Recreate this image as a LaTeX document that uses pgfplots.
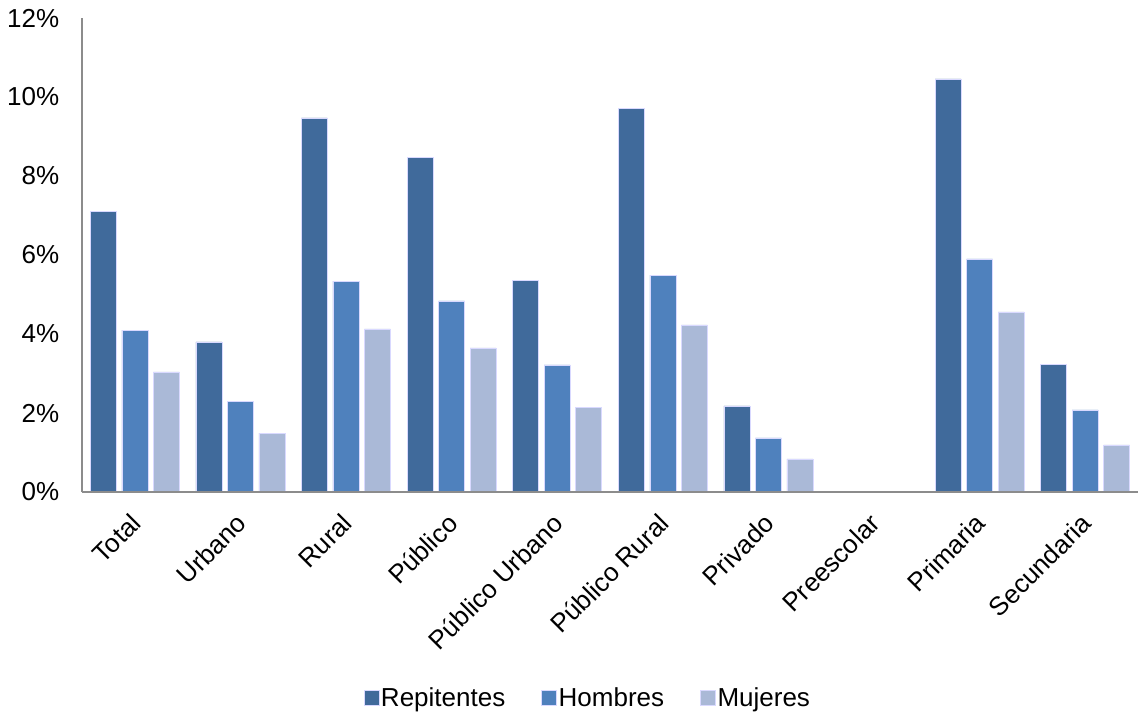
\documentclass[border=0pt]{standalone}
\usepackage{fontspec}
\setmainfont{Liberation Sans}
\usepackage{pgfplots}
\pgfplotsset{compat=1.18}
\definecolor{cRep}{RGB}{64,106,155}
\definecolor{cHom}{RGB}{79,129,189}
\definecolor{cMuj}{RGB}{170,185,215}
\begin{document}
\fontsize{26bp}{31bp}\selectfont
\begin{tikzpicture}
\path[use as bounding box] (-82bp,-225bp) rectangle (1059bp,492bp);
\begin{axis}[
  scale only axis,
  width=1056bp, height=474bp,
  at={(0,0)}, anchor=south west,
  xmin=-0.5, xmax=9.5, ymin=0, ymax=12,
  ytick={0,2,4,6,8,10,12},
  yticklabel={\pgfmathprintnumber{\tick}\%},
  /pgf/number format/assume math mode=true,
  xtick={0,...,9},
  xticklabels={Total,Urbano,Rural,Público,Público Urbano,Público Rural,Privado,Preescolar,Primaria,Secundaria},
  x tick label style={rotate=45, anchor=north east, inner sep=1bp, xshift=-17bp, yshift=-9bp},
  y tick label style={xshift=-14bp},
  tick label style={font=\fontsize{26bp}{31bp}\selectfont},
  major tick length=0pt,
  axis on top,
  axis lines*=left,
  axis line style={-, draw=black!45, line width=1.3bp},
  ybar=5.5bp,
  bar width=26bp,
  every axis plot/.append style={draw=white!85!blue, line width=0.4bp},
  legend style={at={(0.479,-0.436)}, anchor=center, draw=none, legend columns=3,
    font=\fontsize{26bp}{31bp}\selectfont,
    /tikz/every even column/.append style={column sep=34bp}},
  legend image code/.code={\fill[#1] (0bp,-7bp) rectangle (15bp,8bp);},
]
\addplot[fill=cRep] coordinates {(0,7.11) (1,3.80) (2,9.47) (3,8.48) (4,5.35) (5,9.72) (6,2.18) (7,0) (8,10.46) (9,3.24)};
\addplot[fill=cHom] coordinates {(0,4.10) (1,2.30) (2,5.34) (3,4.84) (4,3.22) (5,5.49) (6,1.37) (7,0) (8,5.90) (9,2.08)};
\addplot[fill=cMuj] coordinates {(0,3.04) (1,1.49) (2,4.13) (3,3.65) (4,2.15) (5,4.23) (6,0.84) (7,0) (8,4.56) (9,1.19)};
\legend{Repitentes,Hombres,Mujeres}
\end{axis}
\end{tikzpicture}
\end{document}
